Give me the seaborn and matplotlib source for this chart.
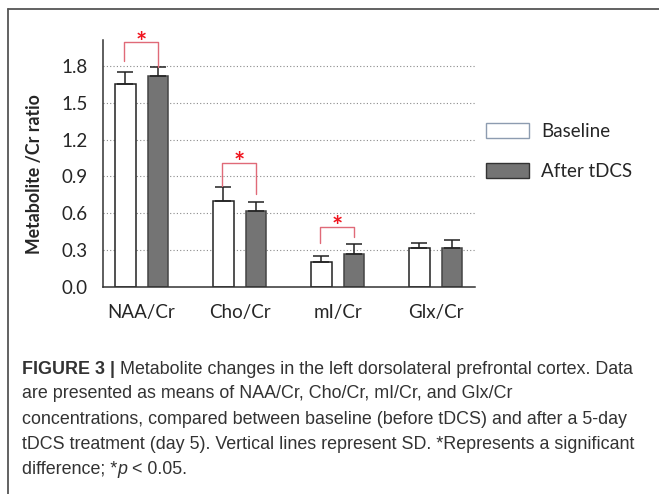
import matplotlib
matplotlib.use("Agg")
from matplotlib import pyplot as plt
from matplotlib.patches import Patch
from matplotlib.lines import Line2D
import seaborn as sns
import pandas as pd

# datos
metabolitos = ["NAA/Cr", "Cho/Cr", "mI/Cr", "Glx/Cr"]
grupos = ["Baseline", "After tDCS"]
media_base = [1.65, 0.70, 0.20, 0.315]
media_tdcs = [1.72, 0.62, 0.27, 0.32]
sd_base = [0.10, 0.11, 0.05, 0.045]
sd_tdcs = [0.07, 0.07, 0.08, 0.06]

# corchetes de significancia: (indice, y arriba, pata izq, pata der)
sig_idx = [0, 1, 2]
sig_top = [1.99, 1.01, 0.49]
sig_izq = [1.84, 0.825, 0.356]
sig_der = [1.79, 0.755, 0.41]

df = pd.DataFrame({
    "metabolito": metabolitos * 2,
    "grupo": [grupos[0]] * 4 + [grupos[1]] * 4,
    "valor": media_base + media_tdcs,
})

sns.set_style("white")
plt.rcParams['font.family'] = ['Lato', 'DejaVu Sans']

fig = plt.figure(figsize=(6.59, 4.94), dpi=100)
ax = fig.add_axes([103 / 659, 1 - 287 / 494, (475 - 103) / 659, (287 - 40) / 494])

gris = "#747474"
sns.barplot(data=df, x="metabolito", y="valor", hue="grupo", ax=ax,
            palette=["white", gris], width=0.664, gap=0.37,
            edgecolor="#222222", linewidth=1.1, errorbar=None, legend=False)

# barras de error (solo hacia arriba, SD)
sds = [sd_base, sd_tdcs]
barras = list(ax.containers)
centros = []
for k, cont in enumerate(barras):
    xs = [p.get_x() + p.get_width() / 2 for p in cont]
    hs = [p.get_height() for p in cont]
    centros.append(xs)
    ax.errorbar(xs, hs, yerr=[[0] * len(hs), sds[k]], fmt="none",
                ecolor="#222222", elinewidth=1.1, capsize=6, capthick=1.1, zorder=1)
for p in barras[1]:
    p.set_edgecolor("#444444")

# corchetes
for i, top, yl, yr in zip(sig_idx, sig_top, sig_izq, sig_der):
    x0 = centros[0][i] - 0.01
    x1 = centros[1][i]
    ax.plot([x0, x0, x1, x1], [yl, top, top, yr], color="#e06a78", lw=1.0,
            clip_on=False, zorder=3)
    ax.text((x0 + x1) / 2, top - 0.10, "*", color="#f0141e", ha="center",
            va="bottom", fontsize=19, fontweight="bold", clip_on=False)

ax.set_xlim(-0.393, 3.40)
ax.set_ylim(0, 2.01)
ax.set_yticks([0.0, 0.3, 0.6, 0.9, 1.2, 1.5, 1.8])
ax.set_yticklabels(["0.0", "0.3", "0.6", "0.9", "1.2", "1.5", "1.8"])
ax.yaxis.grid(True, linestyle=(0, (1, 2)), color="#8a8a8a", lw=0.8)
ax.set_axisbelow(True)
sns.despine(ax=ax)
for s in ["left", "bottom"]:
    ax.spines[s].set_color("#333333")
    ax.spines[s].set_linewidth(1.1)
ax.tick_params(axis="y", length=3, width=1, color="#333333", pad=8, labelsize=13.5)
ax.tick_params(axis="x", length=0, pad=12, labelsize=13.5)
ax.set_xlabel("")
ax.set_ylabel("Metabolite /Cr ratio", fontsize=12.8, fontweight="bold")
ax.yaxis.set_label_coords((43 - 103) / 372, (287 - 174) / 247)

# leyenda
manejadores = [Patch(facecolor="white", edgecolor="#8d9cb0", lw=1.0),
               Patch(facecolor=gris, edgecolor="#333333", lw=1.0)]
fig.legend(manejadores, grupos, loc="upper left",
           bbox_to_anchor=(486 / 659, 1 - 123 / 494), frameon=False,
           fontsize=13.5, handlelength=2.3, handleheight=0.85,
           handletextpad=0.65, labelspacing=1.25, borderpad=0, borderaxespad=0)

# marco
fig.add_artist(Line2D([7.5 / 659, 1], [1 - 9.5 / 494] * 2, color="#555555", lw=1.3))
fig.add_artist(Line2D([7.5 / 659] * 2, [0, 1 - 9.5 / 494], color="#555555", lw=1.3))

# leyenda de la figura
cap_fam = ['Liberation Sans', 'DejaVu Sans']
cap_size = 12.9
lineas = [
    [("FIGURE 3 | ", "bold", "normal"),
     ("Metabolite changes in the left dorsolateral prefrontal cortex. Data", "normal", "normal")],
    [("are presented as means of NAA/Cr, Cho/Cr, mI/Cr, and Glx/Cr", "normal", "normal")],
    [("concentrations, compared between baseline (before tDCS) and after a 5-day", "normal", "normal")],
    [("tDCS treatment (day 5). Vertical lines represent SD. *Represents a significant", "normal", "normal")],
    [("difference; *", "normal", "normal"), ("p", "normal", "italic"), (" < 0.05.", "normal", "normal")],
]
fig.canvas.draw()
r = fig.canvas.get_renderer()
y0 = 369
for n, linea in enumerate(lineas):
    x = 22
    for txt, peso, estilo in linea:
        t = fig.text(x / 659, 1 - (y0 + 25 * n) / 494, txt, fontsize=cap_size,
                     family=cap_fam, fontweight=peso, fontstyle=estilo,
                     color="#333333", va="center", ha="left")
        x += t.get_window_extent(renderer=r).width

fig.savefig("out.png", dpi=100)
